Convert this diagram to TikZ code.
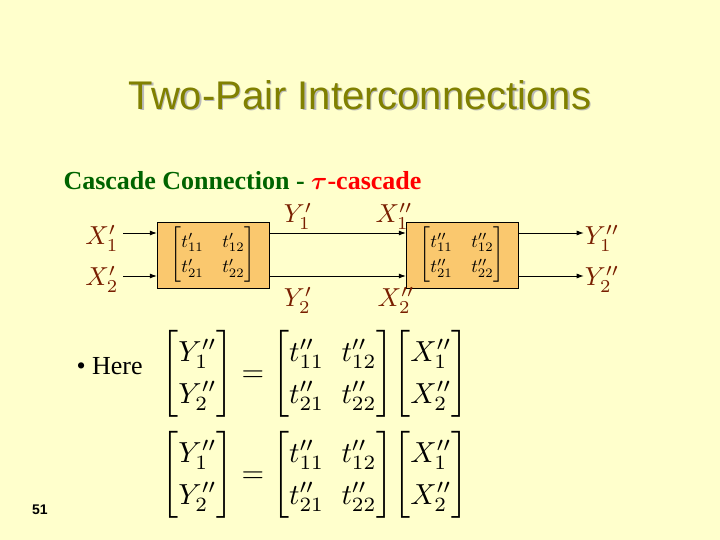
\documentclass[tikz,border=0pt]{standalone}
\usepackage{amsmath}
\usepackage{graphicx}
\usepackage{fontspec}
\setmainfont{Liberation Serif}
\newfontfamily\arialf{Liberation Sans}
\usetikzlibrary{arrows.meta}
\definecolor{bg}{RGB}{255,255,204}
\definecolor{olive}{RGB}{128,128,0}
\definecolor{dgreen}{RGB}{0,100,0}
\definecolor{lbl}{RGB}{120,30,0}
\definecolor{boxc}{RGB}{250,200,110}
\newcommand{\BM}[1]{\scalebox{2.9}{\renewcommand\arraystretch{1.2}$\setlength\arraycolsep{3pt}#1$}}
\newcommand{\SM}[1]{\scalebox{1.85}{\renewcommand\arraystretch{1.15}$\setlength\arraycolsep{5pt}#1$}}
\newcommand{\LB}[1]{\scalebox{2.6}{$#1$}}
\begin{document}
\begin{tikzpicture}[x=1pt,y=-1pt,
  blk/.style={draw=black,fill=boxc,minimum width=112pt,minimum height=66pt,inner sep=0pt},
  lab/.style={text=lbl,inner sep=1pt},
  arr/.style={-{Latex[length=7pt,width=5pt]},thick},
  eq/.style={inner sep=0pt}]
\fill[bg] (0,0) rectangle (720,540);
\useasboundingbox (0,0) rectangle (720,540);
\node[text=gray!55,font=\arialf\fontsize{40}{44}\selectfont] (tsh) at (361.5,96.5) {Two-Pair Interconnections};
\node[text=olive,font=\arialf\fontsize{40}{44}\selectfont] (title) at (360,95) {Two-Pair Interconnections};
\node[anchor=west,font=\bfseries\fontsize{26}{30}\selectfont] (sub) at (60,181) {\textcolor{dgreen}{Cascade Connection -} \textcolor{red}{$\boldsymbol\tau$-cascade}};
\node[blk] (b1) at (213,255) {\SM{\begin{bmatrix} t'_{11} & t'_{12}\\ t'_{21} & t'_{22}\end{bmatrix}}};
\node[blk] (b2) at (462,255) {\SM{\begin{bmatrix} t''_{11} & t''_{12}\\ t''_{21} & t''_{22}\end{bmatrix}}};
\node[lab] (x1) at (102,238) {\LB{X'_1}};
\node[lab] (x2) at (102,279) {\LB{X'_2}};
\coordinate (x1e) at (123,233);
\coordinate (x2e) at (123,276);
\draw[arr] (x1e) -- (b1.west|-x1e);
\draw[arr] (x2e) -- (b1.west|-x2e);
\draw[arr] (b1.east|-x1e) -- (b2.west|-x1e);
\draw[arr] (b1.east|-x2e) -- (b2.west|-x2e);
\node[lab] (y1p) at (298,216) {\LB{Y'_1}};
\node[lab] (y2p) at (298,300) {\LB{Y'_2}};
\node[lab] (x1pp) at (394,216) {\LB{X''_1}};
\node[lab] (x2pp) at (396,300) {\LB{X''_2}};
\node[lab] (y1o) at (602,238) {\LB{Y''_1}};
\node[lab] (y2o) at (602,279) {\LB{Y''_2}};
\draw[arr] (b2.east|-x1e) -- (y1o.west|-x1e);
\draw[arr] (b2.east|-x2e) -- (y2o.west|-x2e);
\node[anchor=west,font=\fontsize{26}{30}\selectfont] (here) at (73,366) {\textbullet\ Here};
\node[eq] (e1) at (315,374) {\BM{\begin{bmatrix} Y''_1\\ Y''_2\end{bmatrix}=\begin{bmatrix} t''_{11} & t''_{12}\\ t''_{21} & t''_{22}\end{bmatrix}\!\begin{bmatrix} X''_1\\ X''_2\end{bmatrix}}};
\node[eq] (e2) at (315,475) {\BM{\begin{bmatrix} Y''_1\\ Y''_2\end{bmatrix}=\begin{bmatrix} t''_{11} & t''_{12}\\ t''_{21} & t''_{22}\end{bmatrix}\!\begin{bmatrix} X''_1\\ X''_2\end{bmatrix}}};
\node[font=\arialf\bfseries\fontsize{14}{16}\selectfont] (num) at (40,510) {51};
\end{tikzpicture}
\end{document}
